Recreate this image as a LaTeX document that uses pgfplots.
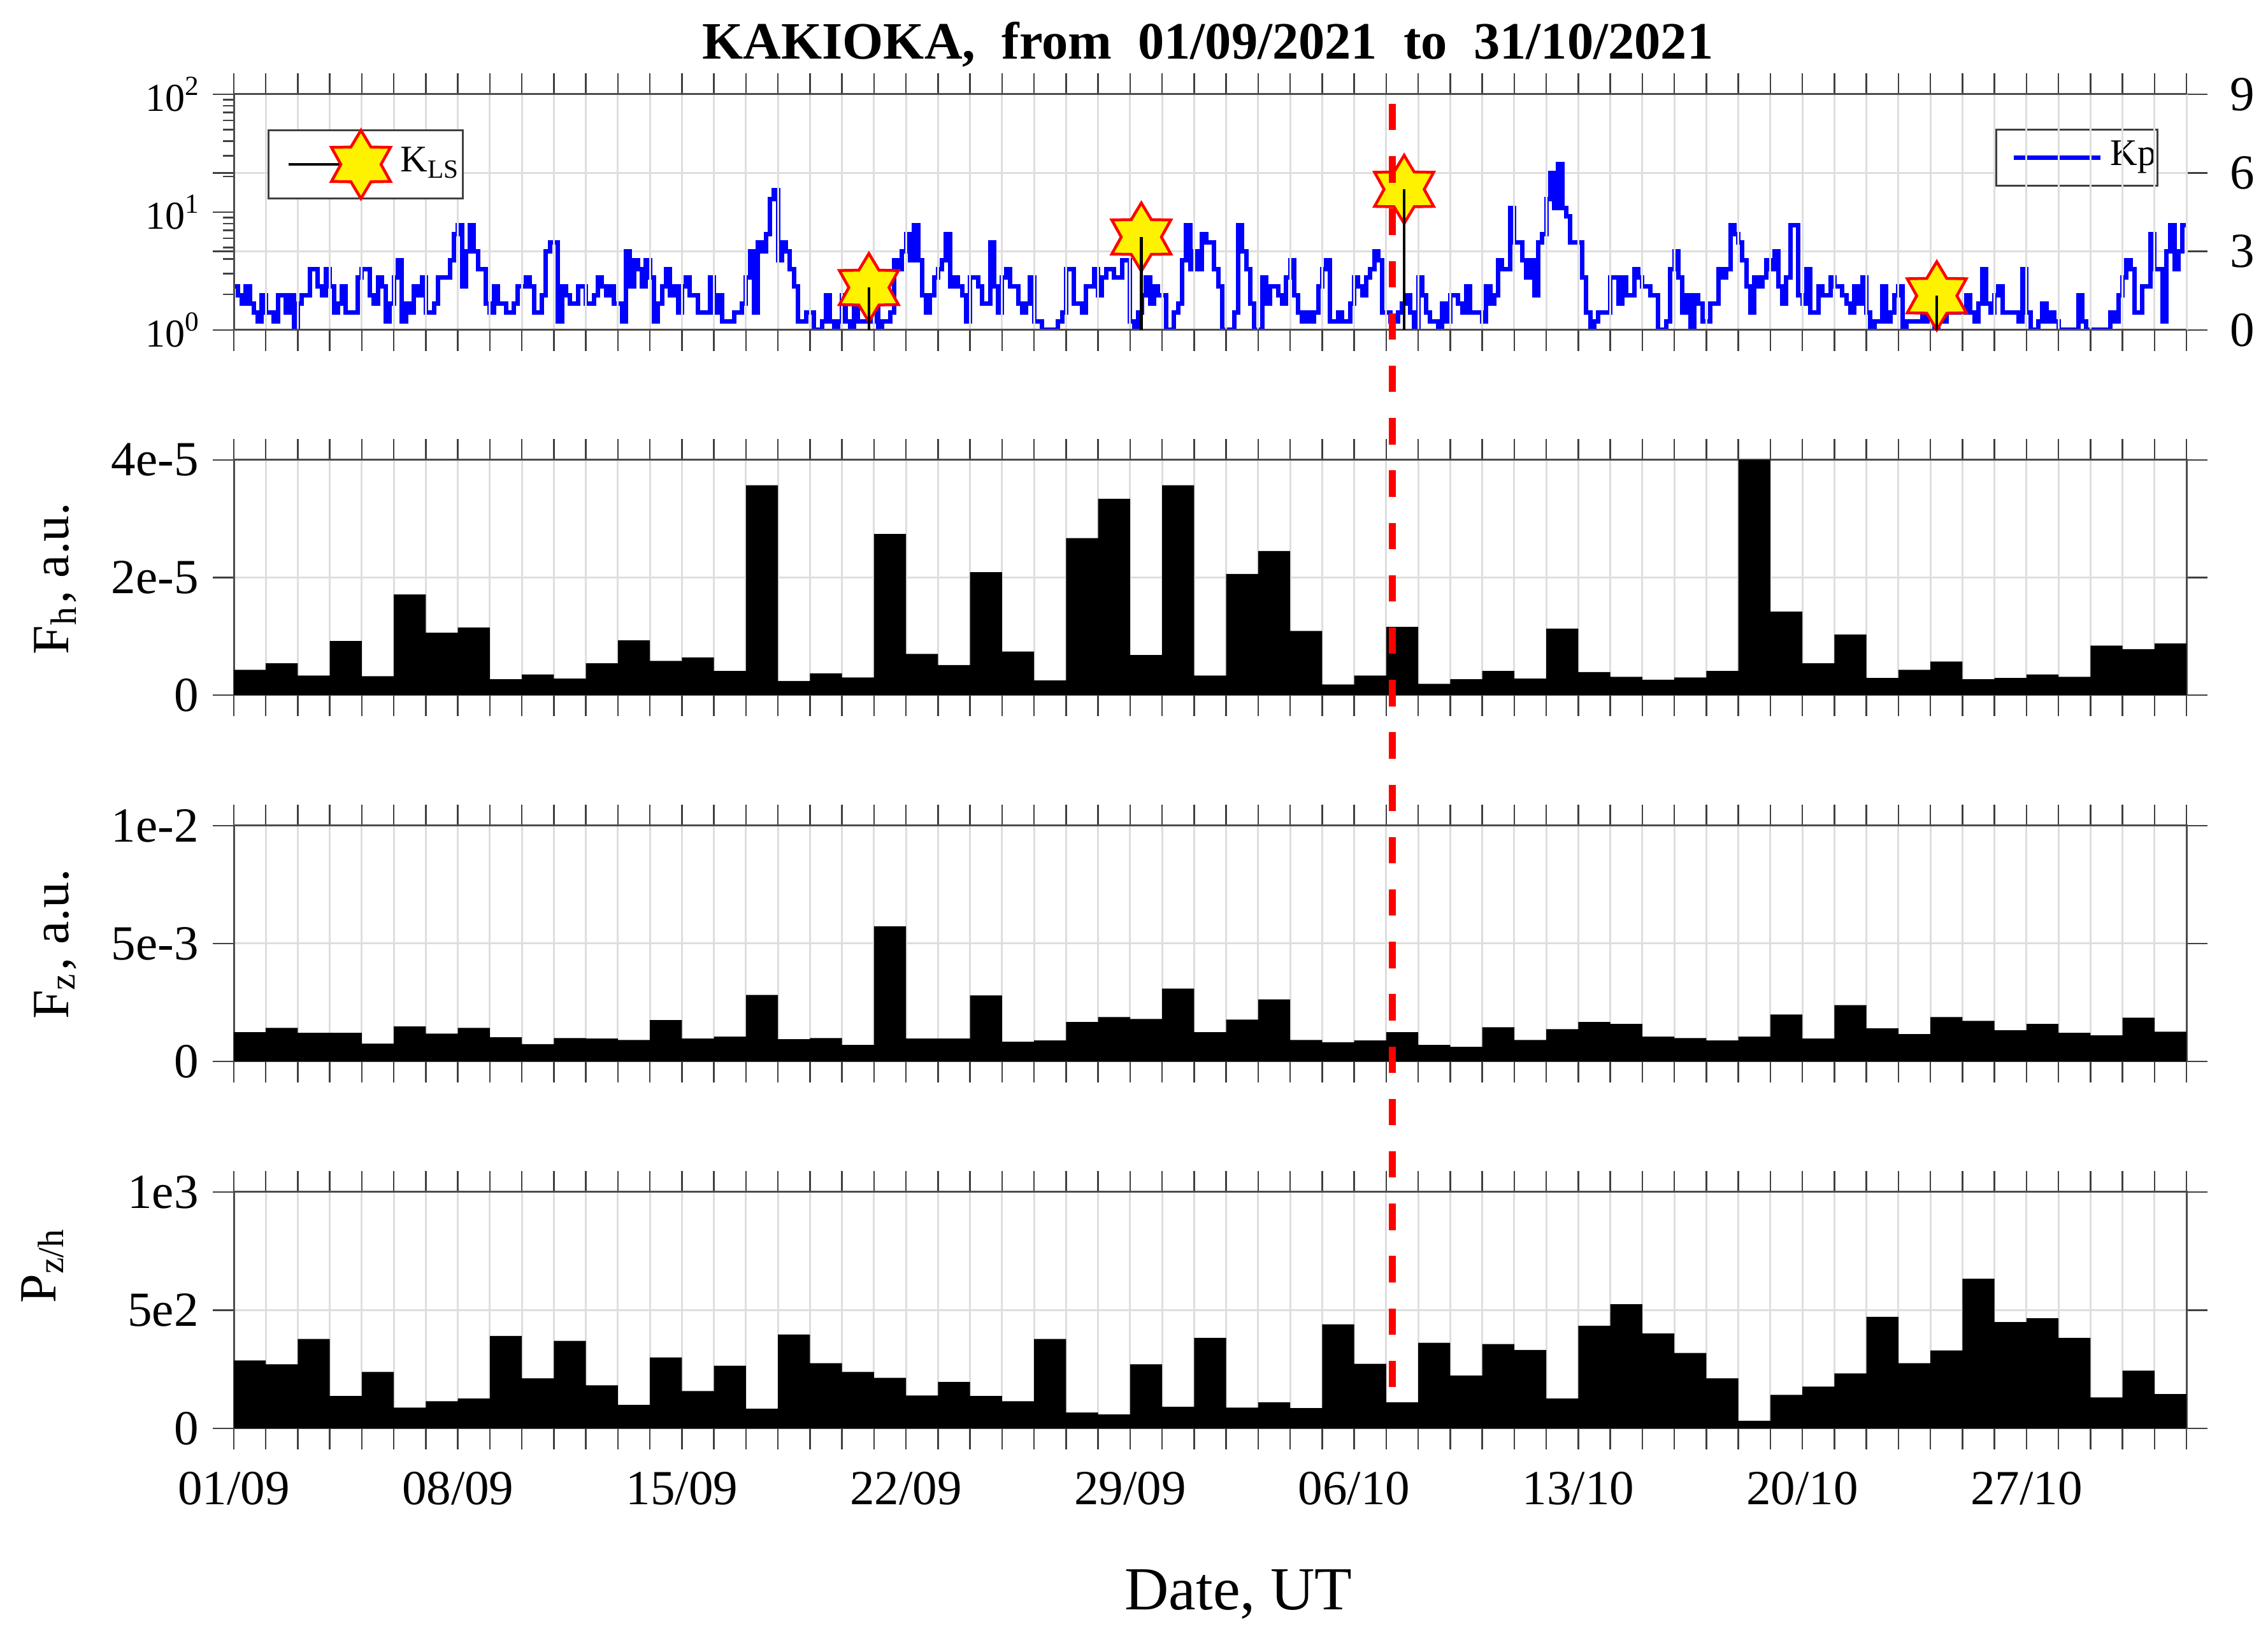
\documentclass[border=0pt]{standalone}
\usepackage{fontspec}
\setmainfont{Liberation Serif}
\usepackage{pgfplots}
\usepackage{pgfplotstable}
\pgfplotsset{compat=1.18}

% 6-pointed star for the K_LS events
\pgfdeclareplotmark{hexstar}{%
  \pgfpathmoveto{\pgfpointpolar{90}{5.35pt}}%
  \pgfpathlineto{\pgfpointpolar{120}{3.15pt}}\pgfpathlineto{\pgfpointpolar{150}{5.35pt}}%
  \pgfpathlineto{\pgfpointpolar{180}{3.15pt}}\pgfpathlineto{\pgfpointpolar{210}{5.35pt}}%
  \pgfpathlineto{\pgfpointpolar{240}{3.15pt}}\pgfpathlineto{\pgfpointpolar{270}{5.35pt}}%
  \pgfpathlineto{\pgfpointpolar{300}{3.15pt}}\pgfpathlineto{\pgfpointpolar{330}{5.35pt}}%
  \pgfpathlineto{\pgfpointpolar{0}{3.15pt}}\pgfpathlineto{\pgfpointpolar{30}{5.35pt}}%
  \pgfpathlineto{\pgfpointpolar{60}{3.15pt}}\pgfpathclose
  \pgfusepathqfillstroke}

% Kp every 3 h, in thirds of a Kp unit, 8 values per day
\pgfplotstableread[row sep=\\]{kp3\\
5\\4\\3\\5\\3\\2\\1\\4\\ 2\\2\\1\\4\\4\\2\\4\\0\\ 3\\4\\4\\7\\7\\5\\4\\7\\ 5\\2\\3\\5\\2\\2\\2\\6\\
7\\7\\4\\3\\6\\5\\1\\3\\ 6\\8\\1\\3\\2\\5\\4\\6\\ 2\\2\\3\\6\\6\\6\\8\\11\\ 12\\5\\9\\12\\9\\7\\7\\3\\
2\\5\\3\\3\\2\\2\\3\\5\\ 5\\6\\5\\2\\2\\4\\9\\10\\ 10\\1\\5\\4\\3\\3\\5\\5\\ 3\\3\\4\\6\\5\\4\\5\\3\\
3\\1\\9\\5\\8\\7\\5\\8\\ 6\\1\\3\\5\\7\\4\\5\\2\\ 5\\6\\4\\4\\2\\2\\2\\6\\ 2\\4\\1\\1\\1\\2\\2\\3\\
6\\9\\2\\10\\9\\11\\15\\16\\ 8\\10\\9\\7\\5\\1\\1\\2\\ 2\\0\\0\\1\\4\\1\\0\\1\\ 4\\1\\0\\3\\1\\1\\1\\1\\
3\\0\\1\\1\\2\\8\\7\\9\\ 11\\8\\12\\8\\4\\2\\4\\6\\ 7\\8\\11\\5\\6\\5\\4\\1\\ 6\\6\\5\\3\\3\\10\\5\\2\\
6\\7\\5\\5\\3\\2\\3\\6\\ 1\\1\\0\\0\\0\\0\\1\\2\\ 7\\7\\3\\3\\2\\5\\5\\7\\ 4\\6\\7\\7\\6\\6\\8\\8\\
1\\0\\2\\4\\6\\3\\5\\4\\ 4\\0\\0\\2\\3\\8\\12\\7\\ 9\\7\\11\\10\\10\\7\\5\\0\\ 0\\0\\2\\12\\9\\7\\3\\0\\
0\\6\\3\\5\\5\\4\\3\\6\\ 8\\4\\2\\1\\2\\1\\2\\5\\ 7\\8\\1\\1\\2\\1\\1\\3\\ 6\\5\\4\\6\\7\\9\\8\\2\\
2\\1\\1\\2\\3\\4\\2\\0\\ 6\\4\\2\\1\\1\\0\\3\\1\\ 4\\4\\3\\2\\5\\2\\2\\2\\ 1\\5\\3\\4\\8\\7\\7\\14\\
10\\10\\8\\6\\8\\4\\10\\11\\ 15\\18\\14\\19\\14\\13\\10\\10\\ 10\\6\\2\\0\\1\\2\\2\\2\\ 6\\6\\3\\6\\4\\4\\7\\6\\
5\\5\\4\\4\\0\\0\\1\\7\\ 9\\6\\2\\4\\0\\4\\3\\1\\ 1\\3\\3\\7\\6\\7\\12\\11\\ 10\\8\\5\\2\\6\\5\\6\\8\\
7\\9\\5\\3\\6\\12\\12\\4\\ 3\\7\\2\\2\\5\\4\\4\\6\\ 5\\5\\4\\3\\2\\5\\3\\6\\ 2\\0\\1\\1\\5\\1\\2\\4\\
5\\0\\1\\1\\1\\1\\2\\1\\ 1\\0\\1\\1\\2\\2\\2\\2\\ 2\\4\\2\\1\\3\\7\\3\\2\\ 4\\5\\2\\2\\2\\2\\1\\7\\
2\\0\\0\\1\\3\\1\\2\\1\\ 0\\0\\0\\0\\0\\4\\1\\0\\ 0\\0\\0\\0\\0\\2\\1\\4\\ 6\\8\\7\\2\\2\\5\\5\\11\\
7\\7\\1\\9\\12\\7\\9\\12\\ 12\\
}\kp

% daily values: fh in 1e-5, fz in 1e-3, pzh as is
\pgfplotstableread{
day fh   fz   pzh
0   0.43 1.24 287
1   0.54 1.42 271
2   0.33 1.21 378
3   0.92 1.21 137
4   0.32 0.75 239
5   1.71 1.48 88
6   1.06 1.18 115
7   1.15 1.42 126
8   0.27 1.02 391
9   0.35 0.73 212
10  0.28 0.99 370
11  0.54 0.97 182
12  0.93 0.91 99
13  0.58 1.75 300
14  0.64 0.97 158
15  0.41 1.05 265
16  3.57 2.82 83
17  0.24 0.94 397
18  0.37 0.99 276
19  0.30 0.70 239
20  2.74 5.73 214
21  0.70 0.97 139
22  0.51 0.97 196
23  2.09 2.80 137
24  0.74 0.83 115
25  0.25 0.89 378
26  2.67 1.67 67
27  3.34 1.88 59
28  0.68 1.80 271
29  3.57 3.09 91
30  0.33 1.24 383
31  2.06 1.77 88
32  2.45 2.63 110
33  1.09 0.91 86
34  0.18 0.81 440
35  0.33 0.89 273
36  1.16 1.24 110
37  0.19 0.70 362
38  0.27 0.62 223
39  0.41 1.45 357
40  0.28 0.91 332
41  1.13 1.37 126
42  0.39 1.67 434
43  0.31 1.59 525
44  0.26 1.05 402
45  0.30 0.99 319
46  0.41 0.89 212
47  4.00 1.05 32
48  1.42 1.99 142
49  0.54 0.97 177
50  1.03 2.39 233
51  0.29 1.40 472
52  0.43 1.16 276
53  0.57 1.88 330
54  0.27 1.72 633
55  0.29 1.32 450
56  0.35 1.59 466
57  0.31 1.21 383
58  0.84 1.10 131
59  0.78 1.85 244
60  0.88 1.26 145
61  0.88 1.26 145
}\daily

\pgfplotsset{
  panel/.style={
    scale only axis, width=306.5pt, anchor=south west,
    xmin=0, xmax=61, xtick={0,...,61}, xticklabels={},
    tick align=outside, tick pos=both,
    major tick length=3.3pt, minor tick length=1.7pt,
    xmajorgrids,
    grid style={black!13, line width=.3pt},
    tick style={black!75, line width=.25pt},
    axis line style={black!70, line width=.3pt},
    tick label style={font=\fontsize{7.7}{8}\selectfont},
  },
  lefty/.style={yticklabel style={xshift=1.3pt}},
  bars/.style={const plot, fill=black, draw=none},
}

\begin{document}
\begin{tikzpicture}
\useasboundingbox (0,0) rectangle (356pt,256pt);

\node[anchor=base, font=\fontsize{8.25}{9}\selectfont\bfseries] at (189.6pt,246.7pt)
  {KAKIOKA,\ \ from\ \ 01/09/2021\ \ to\ \ 31/10/2021};
\node[anchor=base, font=\fontsize{9.6}{10}\selectfont] at (194.4pt,3.3pt) {Date, UT};
\node[anchor=base, rotate=90, font=\fontsize{8.2}{9}\selectfont] at (10.7pt,165.2pt) {F\textsubscript{h}, a.u.};
\node[anchor=base, rotate=90, font=\fontsize{8.2}{9}\selectfont] at (10.7pt,107.8pt) {F\textsubscript{z}, a.u.};
\node[anchor=base, rotate=90, font=\fontsize{8.2}{9}\selectfont] at (8.7pt,57.5pt) {P\textsubscript{z/h}};

% Kp panel, right scale
\begin{axis}[panel, at={(36.7pt,204.2pt)}, height=37pt,
    hide x axis, xtick=\empty, ytick pos=both, yticklabel pos=right,
    ymin=0, ymax=9, ytick={0,3,6,9}, yticklabels={0,3,6,9}, ymajorgrids,
    legend style={at={(0.9857,0.854)}, anchor=north east, draw=black!75,
      line width=.3pt, font=\fontsize{5.9}{6}\selectfont, inner sep=0pt,
      nodes={inner xsep=.2pt, inner ysep=1.7pt}},
    legend image code/.code={\path[draw=none] (-2.7pt,0)--(15pt,0); \draw[blue, line width=.7pt] (0,0)--(13.6pt,0);}]
  \addplot[const plot, blue, line width=.7pt] table[x index=0, y index=0, x expr=\coordindex/8, y expr=\thisrow{kp3}/3] {\kp};
  \addlegendentry{Kp}
\end{axis}

% same panel, log scale with the K_LS events
\begin{axis}[panel, at={(36.7pt,204.2pt)}, height=37pt, clip=false,
    ymode=log, ymin=1, ymax=100, axis y line*=left,
    yticklabel style={font=\fontsize{6.2}{7}\selectfont, xshift=1.9pt},
    ytick={1,10,100}, yticklabels={10\textsuperscript{0},10\textsuperscript{1},10\textsuperscript{2}},
    legend style={at={(0.0173,0.851)}, anchor=north west, draw=black!75,
      line width=.3pt, font=\fontsize{5.9}{6}\selectfont, inner sep=0pt,
      nodes={inner xsep=.2pt, inner ysep=0pt}}]
  \addplot[only marks, mark=hexstar, forget plot, mark options={fill=yellow, draw=red, line width=.45pt}]
    coordinates {(19.84,2.29) (28.35,6.15) (36.56,15.6) (53.2,1.95)};
  \addlegendimage{legend image code/.code={
    \path[draw=none] (-3.1pt,0)--(17.4pt,0);
    \draw[black, line width=.45pt] (0,0)--(8.5pt,0);
    \begin{scope}[shift={(11.4pt,0)}]
      \pgfsetstrokecolor{red}\pgfsetfillcolor{yellow}\pgfsetlinewidth{.45pt}
      \pgfuseplotmark{hexstar}
    \end{scope}}}
  \addlegendentry{K\textsubscript{LS}\hspace{2.9pt}}
\end{axis}

% stems on top of the stars
\begin{axis}[scale only axis, width=306.5pt, height=37pt, anchor=south west, at={(36.7pt,204.2pt)},
    hide axis, xmin=0, xmax=61, ymode=log, ymin=1, ymax=100]
  \addplot[ycomb, black, line width=.45pt]
    coordinates {(19.84,2.29) (28.35,6.15) (36.56,15.6) (53.2,1.95)};
\end{axis}

% Fh
\begin{axis}[panel, lefty, at={(36.7pt,146.9pt)}, height=36.9pt,
    ymin=0, ymax=4, ytick={0,2,4}, yticklabels={0,2e-5,4e-5}, ymajorgrids]
  \addplot[bars] table[x=day, y=fh] {\daily} \closedcycle;
\end{axis}

% Fz
\begin{axis}[panel, lefty, at={(36.7pt,89.4pt)}, height=37pt,
    ymin=0, ymax=10, ytick={0,5,10}, yticklabels={0,5e-3,1e-2}, ymajorgrids]
  \addplot[bars] table[x=day, y=fz] {\daily} \closedcycle;
\end{axis}

% Pz/h
\begin{axis}[panel, lefty, at={(36.7pt,31.8pt)}, height=37.1pt,
    ymin=0, ymax=1000, ytick={0,500,1000}, yticklabels={0,5e2,1e3}, ymajorgrids,
    xticklabels={01/09,,,,,,,08/09,,,,,,,15/09,,,,,,,22/09,,,,,,,29/09,,,,,,,06/10,,,,,,,13/10,,,,,,,20/10,,,,,,,27/10}]
  \addplot[bars] table[x=day, y=pzh] {\daily} \closedcycle;
\end{axis}

% red dashed line over all panels, y in image rows counted from the bottom
\begin{axis}[scale only axis, width=306.5pt, height=256pt, anchor=south west, at={(36.7pt,0pt)},
    hide axis, xmin=0, xmax=61, ymin=0, ymax=2560]
  \addplot[red, line width=1.1pt, dash pattern=on 4.15pt off 4.07pt]
    coordinates {(36.19,2397) (36.19,382)};
\end{axis}
\end{tikzpicture}
\end{document}
